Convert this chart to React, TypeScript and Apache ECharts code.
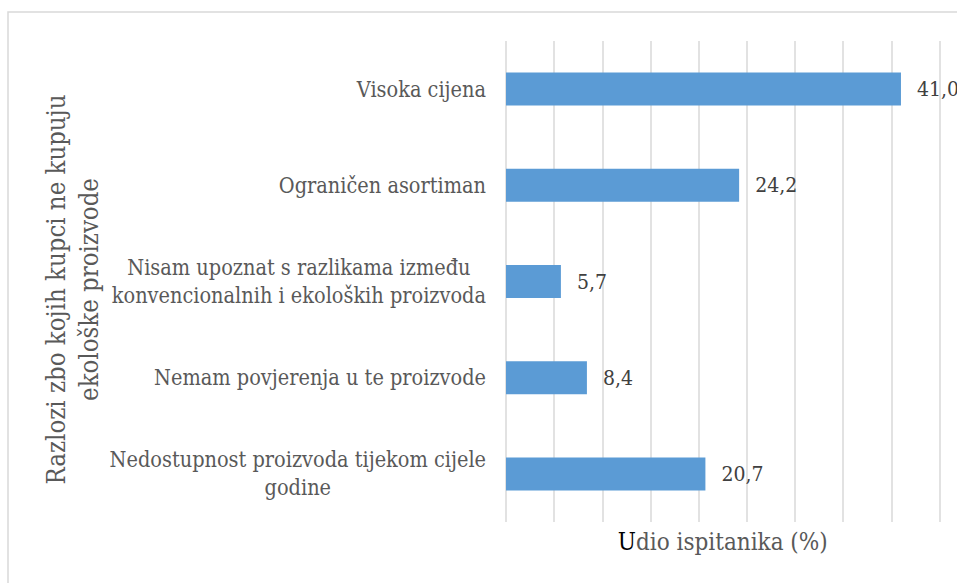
import React, { useEffect, useRef } from "react";
import * as echarts from "echarts";

const categories = [
  "Visoka cijena",
  "Ograničen asortiman",
  "Nisam upoznat s razlikama između\nkonvencionalnih i ekoloških proizvoda",
  "Nemam povjerenja u te proizvode",
  "Nedostupnost proizvoda tijekom cijele\ngodine",
];
const values = [41.0, 24.2, 5.7, 8.4, 20.7];
const xAxisTitle = "Udio ispitanika (%)";
const yAxisTitle = "Razlozi zbo kojih kupci ne kupuju\nekološke proizvode";

export default function App() {
  const ref = useRef<HTMLDivElement>(null);
  useEffect(() => {
    if (!ref.current) return;
    const chart = echarts.init(ref.current, undefined, { renderer: "svg" });
    const font = "DejaVu Serif Condensed";
    chart.setOption({
      animation: false,
      backgroundColor: "#ffffff",
      textStyle: { fontFamily: font },
      graphic: [
        {
          type: "rect",
          shape: { x: 8, y: 12, width: 1000, height: 600 },
          style: { fill: "none", stroke: "#d9d9d9", lineWidth: 1.5 },
          silent: true,
          z: -10,
        },
      ],
      grid: { left: 506, top: 41, width: 433.5, height: 481, containLabel: false },
      xAxis: {
        type: "value",
        min: 0,
        max: 45,
        interval: 5,
        axisLabel: { show: false },
        axisLine: { show: false },
        axisTick: { show: false },
        splitLine: { show: true, lineStyle: { color: "#d9d9d9", width: 1.5 } },
        name: "{u|U}{r|" + xAxisTitle.slice(1) + "}",
        nameLocation: "middle",
        nameGap: 8,
        nameTextStyle: {
          fontFamily: font,
          fontSize: 24,
          color: "#595959",
          verticalAlign: "top",
          rich: {
            u: { fontFamily: font, fontSize: 24, color: "#000000" },
            r: { fontFamily: font, fontSize: 24, color: "#595959" },
          },
        },
      },
      yAxis: {
        type: "category",
        inverse: true,
        data: categories,
        axisLine: { show: false },
        axisTick: { show: false },
        axisLabel: {
          margin: 20,
          fontFamily: font,
          fontSize: 21.5,
          color: "#595959",
          lineHeight: 28,
          formatter: (v: string) =>
            v
              .split("\n")
              .map((l) => "{c|" + l + "}")
              .join("\n"),
          rich: {
            c: {
              fontFamily: font,
              fontSize: 21.5,
              color: "#595959",
              lineHeight: 28,
              align: "center",
            },
          },
        },
        name: yAxisTitle,
        nameLocation: "middle",
        nameRotate: 90,
        nameGap: 399,
        nameTextStyle: {
          fontFamily: font,
          fontSize: 25.5,
          color: "#595959",
          lineHeight: 33,
          align: "center",
          padding: [0, 16, 0, 0],
        },
      },
      series: [
        {
          type: "bar",
          data: values,
          barWidth: 33,
          itemStyle: { color: "#5b9bd5" },
          label: {
            show: true,
            position: "right",
            distance: 16,
            fontFamily: font,
            fontSize: 21,
            color: "#404040",
            formatter: (p: any) => p.value.toFixed(1).replace(".", ","),
          },
        },
      ],
    });
    return () => chart.dispose();
  }, []);
  return (
    <div
      ref={ref}
      style={{ position: "absolute", left: 0, top: 0, width: 957, height: 583 }}
    />
  );
}
